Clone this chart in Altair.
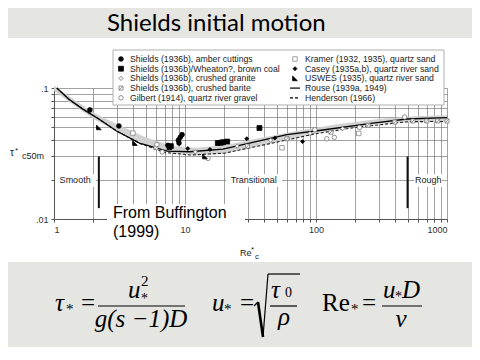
import altair as alt
import pandas as pd

# ---------------- data ----------------
title_text = "Shields initial motion"

x_grid = [1, 2, 3, 4, 5, 6, 7, 8, 9, 10, 20, 30, 40, 50, 60, 70, 80, 90,
          100, 200, 300, 400, 500, 600, 700, 800, 900, 1000]
y_grid = [0.01, 0.02, 0.03, 0.04, 0.05, 0.06, 0.07, 0.08, 0.09, 0.1]

# Rouse (1939a, 1949) - solid
rouse_re = [1.05, 1.3, 1.66, 2.2, 3.0, 4.5, 7.3, 10.9, 19.5, 37, 60, 113, 272, 495, 1000]
rouse_tau = [0.100, 0.082, 0.069, 0.058, 0.047, 0.038, 0.0330, 0.0326, 0.0342, 0.0395,
             0.0440, 0.0478, 0.0540, 0.0580, 0.0595]
# Henderson (1966) - dashed
hend_re = [1.05, 1.3, 1.66, 2.2, 3.0, 4.5, 7.0, 11, 20, 40, 100, 200, 500, 1000]
hend_tau = [0.100, 0.082, 0.069, 0.058, 0.047, 0.0378, 0.0322, 0.0308, 0.0318, 0.0368,
            0.0448, 0.0500, 0.0553, 0.0556]
# Shields band (grey)
band_re = [1, 1.5, 2, 3, 5, 8, 12, 20, 40, 80, 150, 300, 600, 1000]
band_hi = [0.104, 0.079, 0.065, 0.053, 0.042, 0.036, 0.0350, 0.0365, 0.042, 0.048, 0.053, 0.058, 0.061, 0.062]
band_lo = [0.095, 0.071, 0.058, 0.047, 0.037, 0.0315, 0.0305, 0.0315, 0.0365, 0.0425, 0.0485, 0.053, 0.055, 0.055]

series_labels = [
    "Shields (1936b), amber cuttings",
    "Shields (1936b)/Wheaton?, brown coal",
    "Shields (1936b), crushed granite",
    "Shields (1936b), crushed barite",
    "Gilbert (1914), quartz river gravel",
    "Kramer (1932, 1935), quartz sand",
    "Casey (1935a,b), quartz river sand",
    "USWES (1935), quartz river sand",
]
line_labels = ["Rouse (1939a, 1949)", "Henderson (1966)"]

amber_re = [1.88, 3.13, 7.4, 8.9, 9.2, 9.5, 9.0]
amber_tau = [0.068, 0.0513, 0.0365, 0.040, 0.042, 0.044, 0.038]
coal_re = [7.8, 17.8, 18.8, 19.6, 21.0, 37]
coal_tau = [0.036, 0.038, 0.0382, 0.0386, 0.039, 0.0495]
granite_re = [12, 25, 45, 90, 160]
granite_tau = [0.0325, 0.036, 0.040, 0.045, 0.049]
barite_re = [6, 30, 60, 130, 250, 400, 550, 700, 850, 1000]
barite_tau = [0.035, 0.036, 0.041, 0.046, 0.052, 0.055, 0.056, 0.056, 0.056, 0.056]
gilbert_re = [6.1, 6.7, 15, 98, 121, 138, 215, 475]
gilbert_tau = [0.037, 0.0325, 0.029, 0.048, 0.041, 0.042, 0.050, 0.060]
kramer_re = [4.0, 55, 212]
kramer_tau = [0.0453, 0.035, 0.045]
casey_re = [10.5, 15.5, 29.6, 48.5, 79]
casey_tau = [0.0345, 0.034, 0.041, 0.0415, 0.039]
uswes_re = [2.2, 4.15, 14.2, 7.6]
uswes_tau = [0.050, 0.038, 0.030, 0.0352]

regime_labels = ["Smooth", "Transitional", "Rough"]
regime_re = [1.45, 33.5, 718]
regime_tau = [0.02, 0.02, 0.02]
regime_line_re = [2.2, 500]
regime_line_top = [0.030, 0.030]
regime_line_bot = [0.0121, 0.0121]

source_lines = ["From Buffington", "(1999)"]

# ---------------- styles / layout ----------------
OX, OY = 54, 88          # page position of the plot origin
W, H = 393, 131
FONT = "Liberation Sans"
SERIF = "Liberation Serif"
GREY = "#e5e5e1"

styles = [
    dict(shape="circle", fill="black", stroke="black", size=22),
    dict(shape="square", fill="black", stroke="black", size=24),
    dict(shape="diamond", fill="white", stroke="#666", size=18),
    dict(shape="M-1,-1H1V1H-1Z M-1,1L1,-1", fill="white", stroke="#777", size=16),
    dict(shape="circle", fill="white", stroke="#777", size=20),
    dict(shape="square", fill="white", stroke="#888", size=20),
    dict(shape="diamond", fill="black", stroke="black", size=16),
    dict(shape="M-1,-1L-1,1L1,1Z", fill="black", stroke="black", size=22),
]
series_data = [
    (amber_re, amber_tau), (coal_re, coal_tau), (granite_re, granite_tau),
    (barite_re, barite_tau), (gilbert_re, gilbert_tau), (kramer_re, kramer_tau),
    (casey_re, casey_tau), (uswes_re, uswes_tau),
]

one = alt.Data(values=[{"a": 1}])


def px(x):
    return x - OX


def py(y):
    return y - OY


def text_at(x, y, s, size, font=FONT, style="normal", align="left",
            baseline="alphabetic", color="black"):
    return alt.Chart(one).mark_text(
        text=s, align=align, baseline=baseline, fontSize=size, font=font,
        fontStyle=style, color=color
    ).encode(x=alt.value(px(x)), y=alt.value(py(y)))


def rect_at(x1, y1, x2, y2, fill, stroke=None, sw=1):
    kw = dict(fill=fill)
    if stroke:
        kw.update(stroke=stroke, strokeWidth=sw)
    else:
        kw.update(strokeWidth=0)
    return alt.Chart(one).mark_rect(**kw).encode(
        x=alt.value(px(x1)), x2=alt.value(px(x2)),
        y=alt.value(py(y1)), y2=alt.value(py(y2)))


def seg(x1, y1, x2, y2, w=1.2, dash=None, color="black"):
    kw = dict(color=color, strokeWidth=w)
    if dash:
        kw["strokeDash"] = dash
    return alt.Chart(one).mark_rule(**kw).encode(
        x=alt.value(px(x1)), y=alt.value(py(y1)),
        x2=alt.value(px(x2)), y2=alt.value(py(y2)))


X = alt.X("re:Q", scale=alt.Scale(type="log", domain=[1, 1000], nice=False),
          axis=alt.Axis(values=x_grid, title=None,
                        labelExpr="(datum.value==1||datum.value==10||datum.value==100||datum.value==1000) ? datum.value : ''"))
Y = alt.Y("tau:Q", scale=alt.Scale(type="log", domain=[0.01, 0.1], nice=False),
          axis=alt.Axis(values=y_grid, title=None,
                        labelExpr="datum.value==0.1 ? '.1' : (datum.value==0.01 ? '.01' : '')"))

layers = []

# grey slide bands
layers.append(rect_at(-10, -10, 500, 38, GREY))
layers.append(rect_at(-10, 262, 500, 400, GREY))

# Shields band
band_df = pd.DataFrame({"re": band_re, "tau": band_lo, "tau2": band_hi})
layers.append(alt.Chart(band_df).mark_area(color="#d0d0d0", opacity=0.95).encode(
    x=X, y=Y, y2="tau2:Q"))

# white boxes behind regime labels
layers.append(rect_at(55, 174, 96, 187, "white"))
layers.append(rect_at(226, 174, 282, 187, "white"))
layers.append(rect_at(414, 174, 442, 187, "white"))

# regime lines and labels
reg_line_df = pd.DataFrame({"re": regime_line_re, "tau": regime_line_top, "tau2": regime_line_bot})
layers.append(alt.Chart(reg_line_df).mark_rule(color="#111", strokeWidth=2).encode(
    x=X, y=Y, y2="tau2:Q"))
reg_df = pd.DataFrame({"re": regime_re, "tau": regime_tau, "label": regime_labels})
layers.append(alt.Chart(reg_df).mark_text(font=FONT, fontSize=9, color="#222",
                                          baseline="middle").encode(x=X, y=Y, text="label:N"))

# curves
layers.append(alt.Chart(pd.DataFrame({"re": hend_re, "tau": hend_tau})).mark_line(
    color="#222", strokeWidth=1.1, strokeDash=[3, 2]).encode(x=X, y=Y))
layers.append(alt.Chart(pd.DataFrame({"re": rouse_re, "tau": rouse_tau})).mark_line(
    color="black", strokeWidth=1.3).encode(x=X, y=Y))

# scatter series
for (re_v, tau_v), st in zip(series_data, styles):
    df = pd.DataFrame({"re": re_v, "tau": tau_v})
    layers.append(alt.Chart(df).mark_point(
        shape=st["shape"], filled=True, fill=st["fill"], stroke=st["stroke"],
        strokeWidth=0.8, size=st["size"], opacity=1).encode(x=X, y=Y))

# legend box
layers.append(rect_at(113, 50, 444, 105, "white", stroke="#b0b0b0", sw=1))
row_y = [59, 68.7, 78.4, 88.1, 97.8]
legend_items = series_labels[:5] + series_labels[5:] + line_labels
for i, lab in enumerate(legend_items):
    col = 0 if i < 5 else 1
    r = i if i < 5 else i - 5
    mx = 121 if col == 0 else 295
    tx = 130 if col == 0 else 305
    yy = row_y[r]
    if i < 8:
        st = styles[i]
        layers.append(alt.Chart(one).mark_point(
            shape=st["shape"], filled=True, fill=st["fill"], stroke=st["stroke"],
            strokeWidth=0.8, size=st["size"], opacity=1).encode(
            x=alt.value(px(mx)), y=alt.value(py(yy))))
    elif i == 8:
        layers.append(seg(290, yy, 300, yy, 1.2))
    else:
        layers.append(seg(290, yy, 300, yy, 1.2, dash=[3, 2]))
    layers.append(text_at(tx, yy, lab, 8.7, baseline="middle", color="#222"))

# source note
layers.append(rect_at(107, 204, 245, 223, "white"))
layers.append(text_at(113, 218, source_lines[0], 16))
layers.append(text_at(113, 237, source_lines[1], 16))

# axis titles
layers.append(text_at(10, 156, "τ", 10, color="#222"))
layers.append(text_at(15, 153, "*", 8, color="#222"))
layers.append(text_at(22, 159, "c50m", 9, color="#222"))
layers.append(text_at(240, 256, "Re", 9, color="#222"))
layers.append(text_at(251, 252, "*", 8, color="#222"))
layers.append(text_at(255, 259, "c", 8, color="#222"))

# slide title
layers.append(text_at(107, 31, title_text, 24, font="Lato"))

# equations
EQ = 25
layers.append(text_at(55, 311, "τ", EQ, font=SERIF, style="italic"))
layers.append(text_at(66, 314, "*", 15, font=SERIF))
layers.append(text_at(81, 311, "=", EQ, font=SERIF))
layers.append(seg(98, 306, 185, 306, 1.2))
layers.append(text_at(128, 298, "u", EQ, font=SERIF, style="italic"))
layers.append(text_at(141, 286, "2", 15, font=SERIF))
layers.append(text_at(141, 303, "*", 14, font=SERIF))
layers.append(text_at(141, 327, "g(s −1)D", EQ, font=SERIF, style="italic", align="center"))

layers.append(text_at(212, 311, "u", EQ, font=SERIF, style="italic"))
layers.append(text_at(224, 314, "*", 15, font=SERIF))
layers.append(text_at(240, 311, "=", EQ, font=SERIF))
layers.append(seg(254, 306, 258, 302, 1.2))
layers.append(seg(258, 302, 263, 337, 2.6))
layers.append(seg(263, 337, 268, 274, 1.2))
layers.append(seg(268, 274, 300, 274, 1.2))
layers.append(text_at(271, 298, "τ", EQ, font=SERIF, style="italic"))
layers.append(text_at(285, 297, "0", 14, font=SERIF))
layers.append(seg(270, 306, 297, 306, 1.2))
layers.append(text_at(284, 325, "ρ", EQ, font=SERIF, style="italic", align="center"))

layers.append(text_at(322, 311, "Re", EQ, font=SERIF))
layers.append(text_at(351, 314, "*", 15, font=SERIF))
layers.append(text_at(362, 311, "=", EQ, font=SERIF))
layers.append(seg(382, 306, 422, 306, 1.2))
layers.append(text_at(383, 298, "u", EQ, font=SERIF, style="italic"))
layers.append(text_at(395, 301, "*", 14, font=SERIF))
layers.append(text_at(402, 298, "D", EQ, font=SERIF, style="italic"))
layers.append(text_at(401, 327, "ν", EQ, font=SERIF, style="italic", align="center"))

chart = alt.layer(*layers).properties(
    width=W, height=H,
    autosize=alt.AutoSizeParams(type="none"),
    padding={"left": OX - 8, "top": OY - 8, "right": 464 - (OX - 8) - W, "bottom": 128},
    background="white",
).configure_view(stroke=None).configure_axis(
    grid=True, gridColor="#7a7a7a", gridWidth=0.7,
    domainColor="#555", domainWidth=1, tickColor="#555", tickSize=3,
    labelFont=FONT, labelFontSize=9, labelColor="#333", labelPadding=3,
)

chart.save("out.html", embed_options={"renderer": "svg", "actions": False})
